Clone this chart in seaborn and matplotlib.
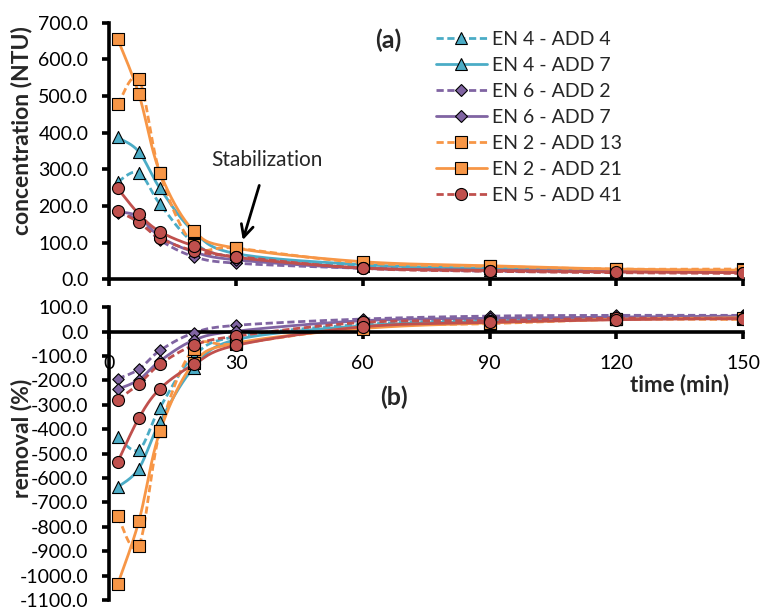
import numpy as np
import pandas as pd
import matplotlib
matplotlib.use("Agg")
import matplotlib.pyplot as plt
from matplotlib.lines import Line2D
import seaborn as sns

# sampling times (min)
times = [2, 7, 12, 20, 30, 60, 90, 120, 150]

# turbidity (NTU)
en4_add4_conc = [266, 291, 205, 100, 60, 35, 26, 22, 22]
en4_add7_conc = [387, 348, 248, 130, 70, 40, 30, 25, 22]
en6_add2_conc = [180, 162, 107, 62, 44, 30, 22, 20, 20]
en6_add7_conc = [185, 171, 116, 75, 53, 30, 25, 22, 20]
en2_add13_conc = [477, 546, 289, 94, 85, 45, 35, 28, 28]
en2_add21_conc = [655, 505, 291, 132, 85, 48, 37, 28, 25]
en5_add41_conc = [187, 155, 112, 78, 62, 30, 22, 18, 16]
en5_extra_conc = [248, 178, 130, 91, 60, 31, 24, 20, 18]

# removal (%)
en4_add4_rem = [-432, -484, -311, -100, -20, 30, 48, 56, 56]
en4_add7_rem = [-637, -561, -370, -148, -33, 24, 43, 52, 58]
en6_add2_rem = [-193, -154, -77, -5, 26, 52, 64, 67, 67]
en6_add7_rem = [-236, -197, -120, -35, 2, 45, 55, 60, 64]
en2_add13_rem = [-757, -878, -408, -69, -50, 19, 33, 50, 50]
en2_add21_rem = [-1035, -777, -408, -129, -47, 13, 36, 51, 57]
en5_add41_rem = [-279, -214, -134, -56, -18, 38, 45, 55, 52]
en5_extra_rem = [-534, -354, -234, -134, -56, 20, 38, 49, 54]

labels = ["EN 4 - ADD 4", "EN 4 - ADD 7", "EN 6 - ADD 2", "EN 6 - ADD 7",
          "EN 2 - ADD 13", "EN 2 - ADD 21", "EN 5 - ADD 41", None]

CYAN, PURPLE, ORANGE, RED = "#4BACC6", "#8064A2", "#F79646", "#C0504D"
styles = [
    (CYAN, "dash", "^", 75),
    (CYAN, "solid", "^", 75),
    (PURPLE, "dash", "D", 34),
    (PURPLE, "solid", "D", 34),
    (ORANGE, "dash", "s", 64),
    (ORANGE, "solid", "s", 64),
    (RED, "dash", "o", 75),
    (RED, "solid", "o", 75),
]
conc = [en4_add4_conc, en4_add7_conc, en6_add2_conc, en6_add7_conc,
        en2_add13_conc, en2_add21_conc, en5_add41_conc, en5_extra_conc]
rem = [en4_add4_rem, en4_add7_rem, en6_add2_rem, en6_add7_rem,
       en2_add13_rem, en2_add21_rem, en5_add41_rem, en5_extra_rem]

DASH = (2.6, 1.3)
LW = 2.0


def smooth(x, y, n=30):
    """Bezier smoothing through the points (Catmull-Rom style control points)."""
    pts = np.column_stack([x, y]).astype(float)
    P = np.vstack([pts[0], pts, pts[-1]])
    xs, ys = [], []
    m = len(pts) - 1
    for i in range(m):
        p0, p1, p2, p3 = P[i], P[i + 1], P[i + 2], P[i + 3]
        c1 = p1 + (p2 - p0) / 6.0
        c2 = p2 - (p3 - p1) / 6.0
        t = np.linspace(0, 1, n, endpoint=(i == m - 1))[:, None]
        b = ((1 - t) ** 3) * p1 + 3 * ((1 - t) ** 2) * t * c1 \
            + 3 * (1 - t) * t ** 2 * c2 + t ** 3 * p2
        xs.append(b[:, 0])
        ys.append(b[:, 1])
    return np.concatenate(xs), np.concatenate(ys)


sns.set_theme(style="white")
plt.rcParams["font.family"] = ["Lato", "DejaVu Sans"]

W, H = 771, 610
fig = plt.figure(figsize=(W / 100, H / 100), dpi=100)
x0, x1 = 109.3, 743.0
ax_a = fig.add_axes([x0 / W, 1 - 279.3 / H, (x1 - x0) / W, (279.3 - 22.7) / H])
ax_b = fig.add_axes([x0 / W, 1 - 600.0 / H, (x1 - x0) / W, (600.0 - 307.3) / H])


def draw_series(ax, values):
    for vals, (c, ls, mk, s) in zip(values, styles):
        sx, sy = smooth(times, vals)
        df = pd.DataFrame({"t": sx, "v": sy})
        sns.lineplot(data=df, x="t", y="v", color=c, linewidth=LW,
                     sort=False, estimator=None, ax=ax)
        ln = ax.get_lines()[-1]
        if ls == "dash":
            ln.set_dashes(DASH)
        pts = pd.DataFrame({"t": times, "v": vals})
        sns.scatterplot(data=pts, x="t", y="v", marker=mk, s=s, color=c,
                        edgecolor="black", linewidth=0.8, ax=ax, zorder=3)


draw_series(ax_a, conc)
draw_series(ax_b, rem)

for ax in (ax_a, ax_b):
    ax.set_xlim(0, 150)
    ax.set_xticks([0, 30, 60, 90, 120, 150])
    for side in ("top", "right"):
        ax.spines[side].set_visible(False)
    for side in ("left", "bottom"):
        ax.spines[side].set_linewidth(2.6)
        ax.spines[side].set_color("black")
    ax.tick_params(axis="both", bottom=True, left=True, direction="out",
                   length=5, width=2.6, color="black", labelsize=14,
                   labelcolor="black")
    ax.tick_params(axis="y", pad=10)
    ax.yaxis.set_major_formatter(matplotlib.ticker.FormatStrFormatter("%.1f"))
    ax.set_xlabel("")
    ax.grid(False)
    ax.patch.set_alpha(0)

ax_a.set_ylim(0, 700)
ax_a.set_yticks(np.arange(0, 701, 100))
ax_a.tick_params(axis="x", labelbottom=False)
ax_a.set_ylabel("concentration (NTU)", fontsize=16.5, fontweight="bold")
ax_a.yaxis.set_label_coords(-0.122, 0.578)

ax_b.set_ylim(-1100, 100)
ax_b.set_yticks(np.arange(-1100, 101, 100))
ax_b.spines["bottom"].set_position(("data", 0))
ax_b.tick_params(axis="x", pad=12)
ax_b.set_ylabel("removal (%)", fontsize=16.5, fontweight="bold")
ax_b.yaxis.set_label_coords(-0.122, 0.553)

ax_a.annotate("Stabilization", xy=(31.6, 107), xytext=(37.3, 325),
              fontsize=15, ha="center", va="center",
              arrowprops=dict(arrowstyle="->", color="black", lw=2,
                              mutation_scale=22, shrinkA=9, shrinkB=0))

fig.text(388 / W, 1 - 40 / H, "(a)", fontsize=18, fontweight="bold",
         ha="center", va="center")
fig.text(394 / W, 1 - 397 / H, "(b)", fontsize=18, fontweight="bold",
         ha="center", va="center")
fig.text(680 / W, 1 - 385 / H, "time (min)", fontsize=16, fontweight="bold",
         ha="center", va="center")

handles = []
for lab, (c, ls, mk, s) in zip(labels, styles):
    if lab is None:
        continue
    h = Line2D([], [], color=c, linewidth=LW, marker=mk,
               markersize=np.sqrt(s), markerfacecolor=c,
               markeredgecolor="black", markeredgewidth=0.8, label=lab)
    if ls == "dash":
        h.set_dashes(DASH)
    handles.append(h)
fig.legend(handles=handles, loc="upper left",
           bbox_to_anchor=(436 / W, 1 - 31 / H), frameon=False,
           fontsize=14, borderpad=0, borderaxespad=0, labelspacing=0.46,
           handlelength=2.6, handletextpad=0.3)

fig.savefig("out.png", dpi=100)
